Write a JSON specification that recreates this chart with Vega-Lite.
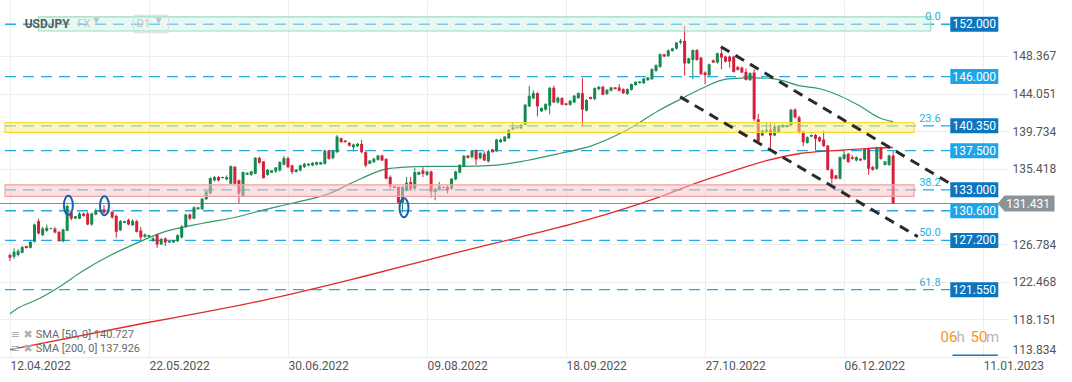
{
"$schema":"https://vega.github.io/schema/vega-lite/v6.json",
"width":1008,"height":357,"autosize":{"type":"none"},
"padding":{"left":0,"top":0,"right":64,"bottom":25},
"background":"#ffffff",
"config":{"view":{"stroke":null},"font":"Roboto"},
"datasets":{
"candles":[
{"i":0,"o":125.52,"h":125.71,"l":124.83,"c":125.21},{"i":1,"o":125.33,"h":126.28,"l":125.06,"c":125.9},{"i":2,"o":125.52,"h":126.2,"l":125.36,"c":125.97},{"i":3,"o":125.78,"h":126.58,"l":125.71,"c":126.43},{"i":4,"o":126.55,"h":126.6,"l":126.28,"c":126.32},{"i":5,"o":126.35,"h":127.19,"l":126.28,"c":127.04},{"i":6,"o":127.04,"h":129.13,"l":126.96,"c":129.02},{"i":7,"o":129.4,"h":129.7,"l":127.88,"c":127.99},{"i":8,"o":127.8,"h":128.75,"l":127.69,"c":128.56},{"i":9,"o":128.3,"h":129.02,"l":128.18,"c":128.64},
{"i":10,"o":128.52,"h":128.66,"l":128.46,"c":128.6},{"i":11,"o":128.56,"h":128.71,"l":127.99,"c":128.11},{"i":12,"o":128.18,"h":128.26,"l":127.04,"c":127.12},{"i":13,"o":127.12,"h":128.56,"l":126.96,"c":128.45},{"i":14,"o":128.3,"h":131.31,"l":128.25,"c":131.15},{"i":15,"o":130.39,"h":130.66,"l":129.51,"c":129.7},{"i":16,"o":129.7,"h":130.0,"l":129.65,"c":129.97},{"i":17,"o":129.7,"h":130.47,"l":129.63,"c":130.28},{"i":18,"o":130.28,"h":130.39,"l":129.9,"c":130.01},{"i":19,"o":130.28,"h":130.47,"l":128.94,"c":129.02},
{"i":20,"o":129.02,"h":130.39,"l":128.87,"c":130.28},{"i":21,"o":130.16,"h":130.85,"l":130.09,"c":130.66},{"i":22,"o":130.47,"h":130.7,"l":130.44,"c":130.66},{"i":23,"o":130.77,"h":131.23,"l":130.28,"c":130.39},{"i":24,"o":130.47,"h":130.8,"l":130.3,"c":130.66},{"i":25,"o":130.47,"h":130.62,"l":129.7,"c":129.82},{"i":26,"o":130.01,"h":130.16,"l":127.5,"c":128.18},{"i":27,"o":128.37,"h":129.55,"l":128.26,"c":129.4},{"i":28,"o":129.21,"h":129.44,"l":129.18,"c":129.4},{"i":29,"o":129.55,"h":129.7,"l":128.94,"c":129.02},
{"i":30,"o":128.94,"h":129.63,"l":128.87,"c":129.44},{"i":31,"o":129.4,"h":129.55,"l":128.11,"c":128.18},{"i":32,"o":128.33,"h":128.75,"l":127.23,"c":127.54},{"i":33,"o":127.61,"h":127.99,"l":127.5,"c":127.88},{"i":34,"o":127.61,"h":127.84,"l":127.58,"c":127.8},{"i":35,"o":127.12,"h":127.61,"l":127.04,"c":127.42},{"i":36,"o":127.88,"h":127.99,"l":126.35,"c":126.74},{"i":37,"o":126.74,"h":127.5,"l":126.66,"c":127.35},{"i":38,"o":127.42,"h":127.54,"l":126.55,"c":126.96},{"i":39,"o":126.96,"h":127.2,"l":126.9,"c":127.12},
{"i":40,"o":126.96,"h":127.26,"l":126.93,"c":127.23},{"i":41,"o":127.12,"h":127.9,"l":127.0,"c":127.8},{"i":42,"o":127.54,"h":128.94,"l":127.42,"c":128.79},{"i":43,"o":128.75,"h":130.28,"l":128.64,"c":130.16},{"i":44,"o":130.16,"h":130.3,"l":129.51,"c":129.7},{"i":45,"o":129.7,"h":131.11,"l":129.63,"c":131.0},{"i":46,"o":130.77,"h":131.03,"l":130.74,"c":131.0},{"i":47,"o":130.77,"h":132.07,"l":130.7,"c":131.99},{"i":48,"o":131.92,"h":132.94,"l":131.85,"c":132.83},{"i":49,"o":132.56,"h":134.45,"l":132.5,"c":134.35},
{"i":50,"o":134.09,"h":134.58,"l":133.97,"c":134.47},{"i":51,"o":134.47,"h":134.58,"l":133.97,"c":134.09},{"i":52,"o":134.35,"h":134.5,"l":134.3,"c":134.47},{"i":53,"o":134.2,"h":134.66,"l":134.1,"c":134.47},{"i":54,"o":133.7,"h":135.8,"l":133.6,"c":135.72},{"i":55,"o":135.65,"h":135.72,"l":133.6,"c":133.7},{"i":56,"o":134.09,"h":134.2,"l":131.5,"c":132.56},{"i":57,"o":132.3,"h":135.1,"l":132.2,"c":135.04},{"i":58,"o":134.73,"h":135.0,"l":134.7,"c":134.96},{"i":59,"o":134.73,"h":135.2,"l":134.6,"c":135.11},
{"i":60,"o":134.85,"h":136.75,"l":134.8,"c":136.68},{"i":61,"o":136.68,"h":136.8,"l":136.0,"c":136.1},{"i":62,"o":136.26,"h":136.3,"l":134.3,"c":134.35},{"i":63,"o":134.73,"h":135.4,"l":134.6,"c":135.3},{"i":64,"o":134.96,"h":135.26,"l":134.93,"c":135.23},{"i":65,"o":135.11,"h":135.6,"l":134.95,"c":135.57},{"i":66,"o":135.23,"h":136.3,"l":135.1,"c":136.18},{"i":67,"o":135.88,"h":136.9,"l":135.8,"c":136.64},{"i":68,"o":136.64,"h":136.8,"l":135.5,"c":135.61},{"i":69,"o":135.8,"h":135.9,"l":134.8,"c":135.04},
{"i":70,"o":135.04,"h":135.37,"l":135.0,"c":135.34},{"i":71,"o":135.23,"h":135.9,"l":135.1,"c":135.8},{"i":72,"o":135.61,"h":136.1,"l":135.5,"c":135.99},{"i":73,"o":135.8,"h":136.05,"l":135.7,"c":135.99},{"i":74,"o":135.8,"h":136.2,"l":135.7,"c":136.1},{"i":75,"o":135.88,"h":136.25,"l":135.8,"c":136.18},{"i":76,"o":135.91,"h":136.21,"l":135.88,"c":136.18},{"i":77,"o":135.99,"h":137.6,"l":135.9,"c":137.51},{"i":78,"o":137.51,"h":137.6,"l":136.45,"c":136.56},{"i":79,"o":136.64,"h":137.6,"l":136.5,"c":137.51},
{"i":80,"o":137.32,"h":139.3,"l":137.2,"c":139.11},{"i":81,"o":138.92,"h":139.0,"l":138.4,"c":138.47},{"i":82,"o":138.66,"h":138.7,"l":138.44,"c":138.47},{"i":83,"o":138.39,"h":138.5,"l":137.95,"c":138.08},{"i":84,"o":137.89,"h":138.3,"l":137.4,"c":138.2},{"i":85,"o":138.01,"h":138.4,"l":137.9,"c":138.28},{"i":86,"o":138.28,"h":138.73,"l":137.2,"c":137.32},{"i":87,"o":137.32,"h":137.4,"l":135.6,"c":135.8},{"i":88,"o":135.99,"h":136.4,"l":135.95,"c":136.37},{"i":89,"o":136.18,"h":136.7,"l":136.1,"c":136.56},
{"i":90,"o":136.45,"h":137.0,"l":136.35,"c":136.94},{"i":91,"o":136.94,"h":137.05,"l":136.3,"c":136.37},{"i":92,"o":136.56,"h":136.6,"l":134.2,"c":134.28},{"i":93,"o":134.47,"h":134.66,"l":133.13,"c":133.4},{"i":94,"o":133.4,"h":133.45,"l":133.18,"c":133.21},{"i":95,"o":133.33,"h":133.4,"l":131.4,"c":131.53},{"i":96,"o":131.53,"h":133.4,"l":130.4,"c":133.33},{"i":97,"o":132.94,"h":134.47,"l":132.8,"c":133.82},{"i":98,"o":133.9,"h":134.47,"l":132.9,"c":133.13},{"i":99,"o":133.13,"h":135.5,"l":132.9,"c":135.04},
{"i":100,"o":134.73,"h":135.1,"l":134.7,"c":135.04},{"i":101,"o":135.23,"h":135.61,"l":134.47,"c":134.85},{"i":102,"o":134.73,"h":135.2,"l":134.6,"c":135.11},{"i":103,"o":135.11,"h":135.2,"l":132.1,"c":132.8},{"i":104,"o":132.75,"h":133.2,"l":131.8,"c":133.13},{"i":105,"o":133.1,"h":133.9,"l":132.9,"c":133.4},{"i":106,"o":133.32,"h":133.4,"l":133.18,"c":133.21},{"i":107,"o":133.32,"h":133.5,"l":132.6,"c":132.94},{"i":108,"o":133.13,"h":134.35,"l":133.0,"c":134.28},{"i":109,"o":134.2,"h":135.2,"l":134.1,"c":135.11},
{"i":110,"o":134.96,"h":135.95,"l":134.9,"c":135.87},{"i":111,"o":135.72,"h":137.0,"l":135.65,"c":136.9},{"i":112,"o":136.94,"h":137.0,"l":136.6,"c":136.67},{"i":113,"o":136.75,"h":137.6,"l":136.6,"c":137.51},{"i":114,"o":137.51,"h":137.65,"l":135.87,"c":136.49},{"i":115,"o":136.63,"h":137.3,"l":136.5,"c":137.25},{"i":116,"o":137.13,"h":137.4,"l":136.3,"c":136.37},{"i":117,"o":136.26,"h":137.6,"l":136.15,"c":137.44},{"i":118,"o":137.63,"h":137.7,"l":137.28,"c":137.32},{"i":119,"o":137.44,"h":138.85,"l":137.35,"c":138.77},
{"i":120,"o":138.47,"h":138.9,"l":138.4,"c":138.77},{"i":121,"o":138.58,"h":139.15,"l":138.5,"c":139.11},{"i":122,"o":138.92,"h":140.0,"l":138.85,"c":139.87},{"i":123,"o":139.91,"h":140.67,"l":139.85,"c":140.18},{"i":124,"o":140.18,"h":140.25,"l":140.02,"c":140.06},{"i":125,"o":140.06,"h":140.55,"l":139.95,"c":140.45},{"i":126,"o":140.45,"h":142.85,"l":140.4,"c":142.77},{"i":127,"o":142.58,"h":144.94,"l":142.5,"c":143.8},{"i":128,"o":143.49,"h":144.44,"l":143.4,"c":144.1},{"i":129,"o":144.1,"h":144.2,"l":141.43,"c":142.58},
{"i":130,"o":142.01,"h":142.45,"l":141.95,"c":142.39},{"i":131,"o":142.2,"h":142.95,"l":142.1,"c":142.84},{"i":132,"o":142.65,"h":144.8,"l":141.66,"c":144.71},{"i":133,"o":144.71,"h":144.94,"l":142.95,"c":143.03},{"i":134,"o":143.03,"h":143.7,"l":142.9,"c":143.57},{"i":135,"o":143.53,"h":143.65,"l":142.7,"c":142.77},{"i":136,"o":142.92,"h":142.98,"l":142.68,"c":142.73},{"i":137,"o":142.77,"h":143.3,"l":142.65,"c":143.23},{"i":138,"o":143.03,"h":143.9,"l":142.95,"c":143.8},{"i":139,"o":143.53,"h":144.2,"l":143.45,"c":144.1},
{"i":140,"o":144.1,"h":145.81,"l":140.29,"c":142.2},{"i":141,"o":142.08,"h":143.4,"l":142.0,"c":143.3},{"i":142,"o":143.64,"h":143.7,"l":143.38,"c":143.42},{"i":143,"o":143.42,"h":144.75,"l":143.3,"c":144.67},{"i":144,"o":144.56,"h":144.9,"l":144.4,"c":144.83},{"i":145,"o":144.83,"h":144.95,"l":143.85,"c":143.91},{"i":146,"o":143.99,"h":144.55,"l":143.9,"c":144.48},{"i":147,"o":144.37,"h":144.85,"l":144.3,"c":144.75},{"i":148,"o":144.75,"h":144.8,"l":144.52,"c":144.56},{"i":149,"o":144.75,"h":145.13,"l":144.3,"c":144.37},
{"i":150,"o":144.56,"h":144.65,"l":144.0,"c":144.1},{"i":151,"o":143.99,"h":144.65,"l":143.9,"c":144.56},{"i":152,"o":144.48,"h":145.2,"l":144.4,"c":145.13},{"i":153,"o":145.02,"h":145.45,"l":144.95,"c":145.4},{"i":154,"o":145.24,"h":145.46,"l":145.2,"c":145.43},{"i":155,"o":145.24,"h":145.85,"l":145.15,"c":145.78},{"i":156,"o":145.59,"h":145.95,"l":145.5,"c":145.89},{"i":157,"o":145.7,"h":146.95,"l":145.6,"c":146.84},{"i":158,"o":146.65,"h":147.4,"l":146.55,"c":147.3},{"i":159,"o":147.11,"h":148.65,"l":147.0,"c":148.56},
{"i":160,"o":148.56,"h":148.6,"l":148.25,"c":148.29},{"i":161,"o":148.37,"h":149.1,"l":148.25,"c":149.01},{"i":162,"o":148.94,"h":149.3,"l":148.85,"c":149.24},{"i":163,"o":149.2,"h":149.95,"l":149.1,"c":149.9},{"i":164,"o":149.9,"h":150.3,"l":149.7,"c":150.1},{"i":165,"o":150.1,"h":151.8,"l":146.1,"c":147.5},{"i":166,"o":147.53,"h":148.15,"l":147.45,"c":148.1},{"i":167,"o":147.91,"h":149.1,"l":145.7,"c":149.05},{"i":168,"o":149.05,"h":149.15,"l":147.8,"c":147.91},{"i":169,"o":148.18,"h":148.25,"l":146.2,"c":146.27},
{"i":170,"o":146.46,"h":146.6,"l":145.13,"c":146.16},{"i":171,"o":146.16,"h":147.5,"l":146.05,"c":147.41},{"i":172,"o":147.87,"h":147.95,"l":147.55,"c":147.6},{"i":173,"o":147.6,"h":148.75,"l":147.5,"c":148.67},{"i":174,"o":148.67,"h":149.24,"l":146.84,"c":148.18},{"i":175,"o":148.29,"h":148.4,"l":147.6,"c":147.72},{"i":176,"o":148.29,"h":148.4,"l":147.03,"c":147.72},{"i":177,"o":148.29,"h":148.4,"l":146.45,"c":146.54},{"i":178,"o":147.11,"h":147.2,"l":146.7,"c":146.77},{"i":179,"o":147.03,"h":147.15,"l":146.4,"c":146.46},
{"i":180,"o":146.54,"h":146.96,"l":145.55,"c":145.62},{"i":181,"o":145.59,"h":146.5,"l":145.5,"c":146.39},{"i":182,"o":146.46,"h":146.84,"l":140.9,"c":141.1},{"i":183,"o":141.1,"h":141.7,"l":138.5,"c":138.54},{"i":184,"o":139.23,"h":139.85,"l":139.15,"c":139.8},{"i":185,"o":139.68,"h":140.67,"l":139.6,"c":139.91},{"i":186,"o":139.91,"h":140.75,"l":137.7,"c":139.23},{"i":187,"o":139.23,"h":140.56,"l":139.15,"c":140.29},{"i":188,"o":139.61,"h":140.45,"l":139.5,"c":140.37},{"i":189,"o":140.18,"h":140.55,"l":140.1,"c":140.45},
{"i":190,"o":140.18,"h":140.5,"l":140.15,"c":140.45},{"i":191,"o":140.37,"h":142.3,"l":140.3,"c":142.2},{"i":192,"o":142.2,"h":142.35,"l":141.2,"c":141.3},{"i":193,"o":141.32,"h":141.51,"l":139.45,"c":139.53},{"i":194,"o":139.68,"h":139.8,"l":138.01,"c":138.47},{"i":195,"o":138.39,"h":139.15,"l":138.3,"c":139.04},{"i":196,"o":139.11,"h":139.35,"l":139.05,"c":139.3},{"i":197,"o":139.3,"h":139.4,"l":137.51,"c":138.84},{"i":198,"o":139.04,"h":139.15,"l":138.5,"c":138.58},{"i":199,"o":138.77,"h":139.8,"l":137.95,"c":138.01},
{"i":200,"o":138.08,"h":138.15,"l":135.2,"c":135.3},{"i":201,"o":135.31,"h":135.45,"l":133.71,"c":134.28},{"i":202,"o":134.66,"h":134.75,"l":134.2,"c":134.28},{"i":203,"o":134.28,"h":136.85,"l":134.2,"c":136.75},{"i":204,"o":136.56,"h":137.51,"l":136.45,"c":137.06},{"i":205,"o":137.13,"h":137.25,"l":136.1,"c":136.18},{"i":206,"o":136.75,"h":136.95,"l":136.45,"c":136.56},{"i":207,"o":136.37,"h":136.85,"l":136.25,"c":136.75},{"i":208,"o":136.56,"h":136.62,"l":136.3,"c":136.37},{"i":209,"o":136.48,"h":137.8,"l":136.4,"c":137.7},
{"i":210,"o":137.7,"h":137.8,"l":134.73,"c":135.42},{"i":211,"o":135.61,"h":135.75,"l":135.2,"c":135.3},{"i":212,"o":135.42,"h":137.95,"l":135.3,"c":137.89},{"i":213,"o":137.89,"h":137.95,"l":136.45,"c":136.56},{"i":214,"o":135.87,"h":136.3,"l":135.8,"c":136.26},{"i":215,"o":135.87,"h":137.05,"l":135.75,"c":136.94},{"i":216,"o":136.94,"h":137.43,"l":131.4,"c":131.43}
],
"sma50":[
{"i":0,"p":118.78},{"i":1.69,"p":119.35},{"i":6.54,"p":120.38},{"i":12.83,"p":122.09},{"i":17.43,"p":123.57},{"i":24.7,"p":125.52},{"i":30.99,"p":126.89},{"i":36.8,"p":128.03},{"i":47.22,"p":129.17},{"i":55.21,"p":129.86},{"i":61.74,"p":130.66},{"i":69.01,"p":131.46},{"i":79.42,"p":132.83},{"i":82.32,"p":133.51},{"i":85.96,"p":134.31},{"i":91.53,"p":135.34},{"i":95.64,"p":135.57},{"i":102.18,"p":135.69},{"i":110.17,"p":135.69},{"i":118.16,"p":135.8},{"i":126.39,"p":136.37},{"i":134.38,"p":137.17},{"i":142.37,"p":138.08},{"i":150.61,"p":139.8},{"i":158.6,"p":142.08},{"i":164.16,"p":143.45},{"i":169.01,"p":144.6},{"i":175.54,"p":145.74},{"i":182.08,"p":145.85},{"i":186.92,"p":145.74},{"i":193.22,"p":144.94},{"i":198.06,"p":144.6},{"i":202.9,"p":143.8},{"i":207.75,"p":142.65},{"i":212.59,"p":141.28},{"i":215.98,"p":140.83}
],
"sma200":[
{"i":0,"p":114.66},{"i":33.41,"p":117.75},{"i":50.36,"p":119.23},{"i":62.47,"p":120.38},{"i":85.96,"p":123.0},{"i":107.75,"p":125.63},{"i":124.7,"p":127.57},{"i":140.92,"p":129.52},{"i":158.6,"p":132.14},{"i":168.28,"p":133.86},{"i":177.24,"p":135.23},{"i":185.23,"p":136.37},{"i":193.22,"p":137.17},{"i":201.45,"p":137.51},{"i":209.44,"p":137.74},{"i":215.98,"p":137.86}
],
"levels":[
{"p":152.0,"lab":"152.000","k":"d"},{"p":146.0,"lab":"146.000","k":"l"},{"p":140.35,"lab":"140.350","k":"d"},{"p":137.5,"lab":"137.500","k":"l"},{"p":133.0,"lab":"133.000","k":"d"},{"p":130.6,"lab":"130.600","k":"l"},{"p":127.2,"lab":"127.200","k":"d"},{"p":121.55,"lab":"121.550","k":"d"}
],
"zones":[
{"z":"mint","i1":7.0,"i2":225.2,"p1":151.23,"p2":152.84},
{"z":"yellow","i1":-1.21,"i2":221.1,"p1":139.58,"p2":140.72},
{"z":"pink","i1":-1.21,"i2":221.1,"p1":132.26,"p2":133.58}
],
"trend":[
{"line":"upper","i":173.85,"p":149.43},{"line":"upper","i":232.5,"p":133.0},
{"line":"lower","i":163.9,"p":143.67},{"line":"lower","i":222.03,"p":127.63}
],
"fib":[
{"t":"0.0","p":152.0},{"t":"23.6","p":140.35},{"t":"38.2","p":133.0},{"t":"50.0","p":127.2},{"t":"61.8","p":121.55}
],
"marks":[
{"i":14.29,"p":131.23},{"i":23.12,"p":131.18},{"i":96.37,"p":130.95}
],
"legend":[
{"t":"SMA  [50,  0]  140.727","p":116.39},{"t":"SMA  [200,  0]  137.926","p":114.79}
]
},
"layer":[
{"data":{"name":"candles"},
 "mark":{"type":"rule","strokeWidth":1},
 "encoding":{
  "x":{"field":"i","type":"quantitative","scale":{"domain":[-1.21,242.86],"nice":false,"zero":false},
   "axis":{"values":[0,34,68,102,136,170,204,238],"labelExpr":"['12.04.2022','22.05.2022','30.06.2022','09.08.2022','18.09.2022','27.10.2022','06.12.2022','11.01.2023'][round(datum.value/34)]","labelAlign":"left","labelPadding":3,"labelFontSize":12,"labelColor":"#555555","labelFont":"Roboto","grid":true,"gridColor":"#ededed","ticks":false,"domain":false,"title":null,"labelOverlap":false,"labelFlush":false}},
  "y":{"field":"l","type":"quantitative","scale":{"domain":[113.82,154.785],"nice":false,"zero":false},
   "axis":{"orient":"right","values":[148.367,144.051,139.734,135.418,126.784,122.468,118.151,113.834],"format":".3f","grid":true,"gridColor":"#ededed","ticks":false,"domain":false,"labelPadding":4,"labelColor":"#555555","labelFontSize":12,"labelFont":"Roboto","title":null,"labelOverlap":false,"labelFlush":false,"labelBaseline":{"condition":{"test":"datum.value < 114","value":"bottom"},"value":"middle"}}},
  "y2":{"field":"h"},
  "color":{"condition":{"test":"datum.c >= datum.o","value":"#15894f"},"value":"#d4213b"}
 }},
{"data":{"name":"levels"},
 "mark":{"type":"rule","strokeWidth":1.3,"strokeDash":[11,7],"color":"#22a9ec"},
 "encoding":{"x":{"datum":-1.21,"type":"quantitative"},"x2":{"datum":230},"y":{"field":"p","type":"quantitative"}}},
{"data":{"values":[{"p":131.431}]},
 "mark":{"type":"rule","strokeWidth":1.2,"color":"#8a8e91"},
 "encoding":{"y":{"field":"p","type":"quantitative"}}},
{"data":{"name":"sma50"},
 "mark":{"type":"line","strokeWidth":1.2,"color":"#33996b","interpolate":"monotone"},
 "encoding":{"x":{"field":"i","type":"quantitative"},"y":{"field":"p","type":"quantitative"}}},
{"data":{"name":"sma200"},
 "mark":{"type":"line","strokeWidth":1.3,"color":"#e12a2a","interpolate":"monotone"},
 "encoding":{"x":{"field":"i","type":"quantitative"},"y":{"field":"p","type":"quantitative"}}},
{"data":{"name":"candles"},
 "mark":{"type":"bar","width":3,"orient":"vertical"},
 "encoding":{"x":{"field":"i","type":"quantitative"},"y":{"field":"o","type":"quantitative"},"y2":{"field":"c"},
  "color":{"condition":{"test":"datum.c >= datum.o","value":"#15894f"},"value":"#d4213b"}}},
{"data":{"name":"zones"},
 "mark":{"type":"rect","fillOpacity":0.5,"strokeWidth":1.2},
 "encoding":{"x":{"field":"i1","type":"quantitative"},"x2":{"field":"i2"},"y":{"field":"p1","type":"quantitative"},"y2":{"field":"p2"},
  "fill":{"field":"z","type":"nominal","scale":{"domain":["mint","yellow","pink"],"range":["#d2f1e5","#fcef80","#f8c3c3"]},"legend":null},
  "stroke":{"field":"z","type":"nominal","scale":{"domain":["mint","yellow","pink"],"range":["#98dcc2","#f3da3c","#f0a3a3"]},"legend":null}}},
{"data":{"name":"trend"},
 "mark":{"type":"line","strokeWidth":3,"strokeDash":[10,7],"color":"#2a2a2a"},
 "encoding":{"x":{"field":"i","type":"quantitative"},"y":{"field":"p","type":"quantitative"},"detail":{"field":"line"}}},
{"data":{"name":"marks"},
 "mark":{"type":"point","shape":"M0,-1C0.26,-1 0.47,-0.55 0.47,0C0.47,0.55 0.26,1 0,1C-0.26,1 -0.47,0.55 -0.47,0C-0.47,-0.55 -0.26,-1 0,-1Z","size":361,"filled":false,"strokeWidth":2,"color":"#1d5fae","opacity":1},
 "encoding":{"x":{"field":"i","type":"quantitative"},"y":{"field":"p","type":"quantitative"}}},
{"data":{"name":"fib"},
 "mark":{"type":"text","align":"right","baseline":"middle","dy":-7,"fontSize":11,"color":"#2aaee6","font":"Roboto"},
 "encoding":{"x":{"datum":227.6,"type":"quantitative"},"y":{"field":"p","type":"quantitative"},"text":{"field":"t"}}},
{"data":{"name":"levels"},
 "mark":{"type":"point","shape":"M-1,-0.3125H1V0.3125H-1Z","size":2304,"filled":true,"opacity":1,"strokeWidth":0},
 "encoding":{"x":{"datum":235.84,"type":"quantitative"},"y":{"field":"p","type":"quantitative"},
  "color":{"field":"k","type":"nominal","scale":{"domain":["d","l"],"range":["#0b76bf","#1aa6ea"]},"legend":null}}},
{"data":{"name":"levels"},
 "mark":{"type":"text","align":"center","baseline":"middle","fontSize":12,"color":"#ffffff","font":"Roboto"},
 "encoding":{"x":{"datum":235.84,"type":"quantitative"},"y":{"field":"p","type":"quantitative"},"text":{"field":"lab"}}},
{"data":{"values":[{"p":131.431,"lab":"131.431"}]},
 "mark":{"type":"point","shape":"M-1,0L-0.754,-0.281L1,-0.281L1,0.281L-0.754,0.281Z","size":3249,"filled":true,"opacity":1,"strokeWidth":0,"color":"#8c9499"},
 "encoding":{"x":{"datum":248.5,"type":"quantitative"},"y":{"field":"p","type":"quantitative"}}},
{"data":{"values":[{"p":131.431,"lab":"131.431"}]},
 "mark":{"type":"text","align":"center","baseline":"middle","fontSize":12,"color":"#ffffff","font":"Roboto"},
 "encoding":{"x":{"datum":249.0,"type":"quantitative"},"y":{"field":"p","type":"quantitative"},"text":{"field":"lab"}}},
{"data":{"values":[{"t":"USDJPY"}]},
 "mark":{"type":"text","align":"left","baseline":"middle","fontSize":12,"fontWeight":"bold","color":"#5a5a5a","font":"Roboto"},
 "encoding":{"x":{"datum":3.6,"type":"quantitative"},"y":{"datum":152.03,"type":"quantitative"},"text":{"field":"t"}}},
{"data":{"values":[{"t":"FX"}]},
 "mark":{"type":"text","align":"left","baseline":"middle","fontSize":11,"color":"#c4c4c4","font":"Roboto"},
 "encoding":{"x":{"datum":16.5,"type":"quantitative"},"y":{"datum":152.03,"type":"quantitative"},"text":{"field":"t"}}},
{"data":{"values":[{"t":"▼"}]},
 "mark":{"type":"text","align":"left","baseline":"middle","fontSize":8,"color":"#c4c4c4","font":"DejaVu Sans"},
 "encoding":{"x":{"datum":20.4,"type":"quantitative"},"y":{"datum":152.4,"type":"quantitative"},"text":{"field":"t"}}},
{"data":{"values":[{"t":""}]},
 "mark":{"type":"point","shape":"M-1,-0.5H1V0.5H-1Z","size":1225,"filled":false,"strokeWidth":1,"color":"#dddddd","opacity":1},
 "encoding":{"x":{"datum":34.5,"type":"quantitative"},"y":{"datum":152.03,"type":"quantitative"}}},
{"data":{"values":[{"t":"D1"}]},
 "mark":{"type":"text","align":"left","baseline":"middle","fontSize":11,"color":"#c4c4c4","font":"Roboto"},
 "encoding":{"x":{"datum":31.0,"type":"quantitative"},"y":{"datum":152.03,"type":"quantitative"},"text":{"field":"t"}}},
{"data":{"values":[{"t":"▼"}]},
 "mark":{"type":"text","align":"left","baseline":"middle","fontSize":8,"color":"#c4c4c4","font":"DejaVu Sans"},
 "encoding":{"x":{"datum":35.6,"type":"quantitative"},"y":{"datum":152.4,"type":"quantitative"},"text":{"field":"t"}}},
{"data":{"name":"legend"},
 "mark":{"type":"text","align":"left","baseline":"middle","fontSize":11,"color":"#b0b0b0","font":"DejaVu Sans","text":"≡ ✖"},
 "encoding":{"x":{"datum":0.2,"type":"quantitative"},"y":{"field":"p","type":"quantitative"}}},
{"data":{"name":"legend"},
 "mark":{"type":"text","align":"left","baseline":"middle","fontSize":11,"color":"#6a6a6a","font":"Roboto"},
 "encoding":{"x":{"datum":6.3,"type":"quantitative"},"y":{"field":"p","type":"quantitative"},"text":{"field":"t"}}},
{"data":{"values":[{"t":"06"}]},
 "mark":{"type":"text","align":"left","baseline":"middle","fontSize":15,"color":"#f7951d","font":"Roboto"},
 "encoding":{"x":{"datum":227.6,"type":"quantitative"},"y":{"datum":116.16,"type":"quantitative"},"text":{"field":"t"}}},
{"data":{"values":[{"t":"h"}]},
 "mark":{"type":"text","align":"left","baseline":"middle","fontSize":15,"color":"#b5b5b5","font":"Roboto"},
 "encoding":{"x":{"datum":231.5,"type":"quantitative"},"y":{"datum":116.16,"type":"quantitative"},"text":{"field":"t"}}},
{"data":{"values":[{"t":"50"}]},
 "mark":{"type":"text","align":"left","baseline":"middle","fontSize":15,"color":"#f7951d","font":"Roboto"},
 "encoding":{"x":{"datum":234.9,"type":"quantitative"},"y":{"datum":116.16,"type":"quantitative"},"text":{"field":"t"}}},
{"data":{"values":[{"t":"m"}]},
 "mark":{"type":"text","align":"left","baseline":"middle","fontSize":15,"color":"#b5b5b5","font":"Roboto"},
 "encoding":{"x":{"datum":238.7,"type":"quantitative"},"y":{"datum":116.16,"type":"quantitative"},"text":{"field":"t"}}},
{"data":{"values":[{"p":114.02}]},
 "mark":{"type":"rule","strokeWidth":1.5,"color":"#1a76c0"},
 "encoding":{"x":{"datum":230.5,"type":"quantitative"},"x2":{"datum":241.6},"y":{"field":"p","type":"quantitative"}}}
]
}
